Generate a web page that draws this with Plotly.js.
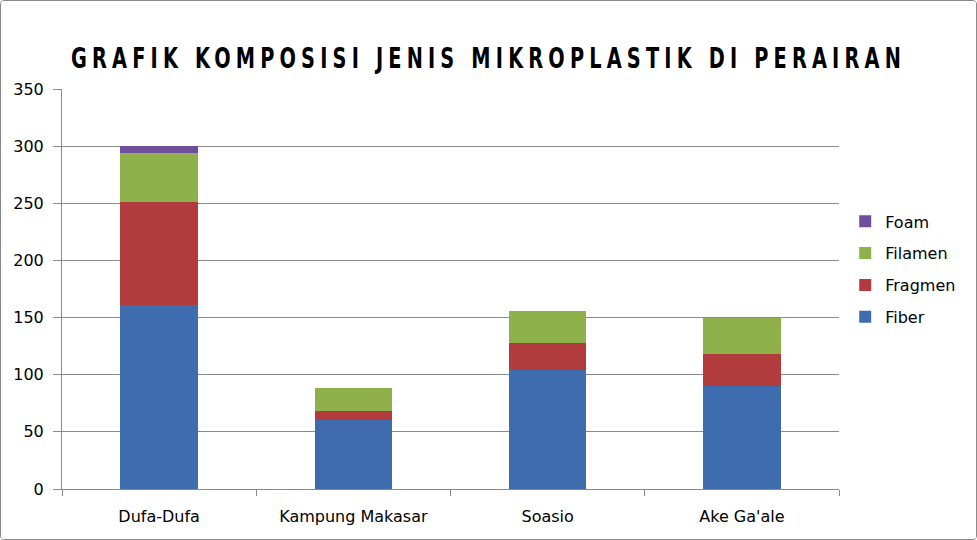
<!DOCTYPE html>
<html>
<head>
<meta charset="utf-8">
<script src="https://cdn.plot.ly/plotly-3.0.1.min.js"></script>
<style>
  html, body { margin: 0; padding: 0; background: #fff; }
  #chart { width: 975px; height: 538px; border: 1px solid #8a8a8a; border-radius: 4px; overflow: hidden; }
  .gtitle { letter-spacing: 7px; }
</style>
</head>
<body>
<div id="chart"></div>
<script>
const categories = ["Dufa-Dufa", "Kampung Makasar", "Soasio", "Ake Ga'ale"];
const fiber   = [161, 60, 104, 90];
const fragmen = [90, 8, 24, 28];
const filamen = [43, 20, 28, 32];
const foam    = [6, 0, 0, 0];
const yTicks  = [0, 50, 100, 150, 200, 250, 300, 350];

const colors = { Fiber: '#3F6CAF', Fragmen: '#B13B3D', Filamen: '#8FB14B', Foam: '#6F4E9C' };
const series = [['Fiber', fiber], ['Fragmen', fragmen], ['Filamen', filamen], ['Foam', foam]];

const traces = series.map(([name, vals], i) => ({
  type: 'bar', name: name, x: categories, y: vals,
  legendgroup: name,
  legendrank: 1000 - i,
  marker: { color: colors[name], line: { width: 0 } },
  hoverinfo: 'x+y+name'
}));

const FONT = 'DejaVu Sans, Verdana, sans-serif';

const layout = {
  width: 975, height: 538,
  margin: { l: 61, r: 137, t: 88, b: 50, pad: 0 },
  barmode: 'stack',
  bargap: 0.6,
  paper_bgcolor: '#fff', plot_bgcolor: '#fff',
  font: { family: FONT, size: 16, color: '#000' },
  title: {
    text: 'GRAFIK KOMPOSISI JENIS MIKROPLASTIK DI PERAIRAN',
    font: { family: 'DejaVu Sans Condensed, DejaVu Sans, sans-serif', size: 29, color: '#000', weight: 'bold' },
    x: 0.5, xanchor: 'center', y: 0.895, yanchor: 'middle'
  },
  xaxis: {
    type: 'category',
    showline: true, linecolor: '#8a8a8a', linewidth: 1,
    ticks: 'outside', tickson: 'boundaries', ticklen: 6, tickcolor: '#8a8a8a',
    ticklabelstandoff: 13,
    tickfont: { size: 16, family: FONT },
    showgrid: false
  },
  yaxis: {
    range: [0, 350], tickvals: yTicks, ticktext: yTicks.map(String),
    showline: true, linecolor: '#8a8a8a', linewidth: 1,
    ticks: 'outside', ticklen: 8, tickcolor: '#8a8a8a',
    ticklabelstandoff: 6,
    showgrid: true, gridcolor: '#8a8a8a', gridwidth: 1,
    tickfont: { size: 16, family: FONT },
    zeroline: false
  },
  legend: {
    x: 1.008, xanchor: 'left', y: 0.549, yanchor: 'middle',
    traceorder: 'grouped', tracegroupgap: 8,
    font: { size: 16, family: FONT },
    itemwidth: 30
  },
  showlegend: true
};

Plotly.newPlot('chart', traces, layout, { displayModeBar: false, staticPlot: true }).then(() => {
  const t = document.querySelector('.gtitle');
  if (t) {
    t.setAttribute('textLength', '835');
    t.setAttribute('lengthAdjust', 'spacingAndGlyphs');
  }
});
</script>
</body>
</html>
